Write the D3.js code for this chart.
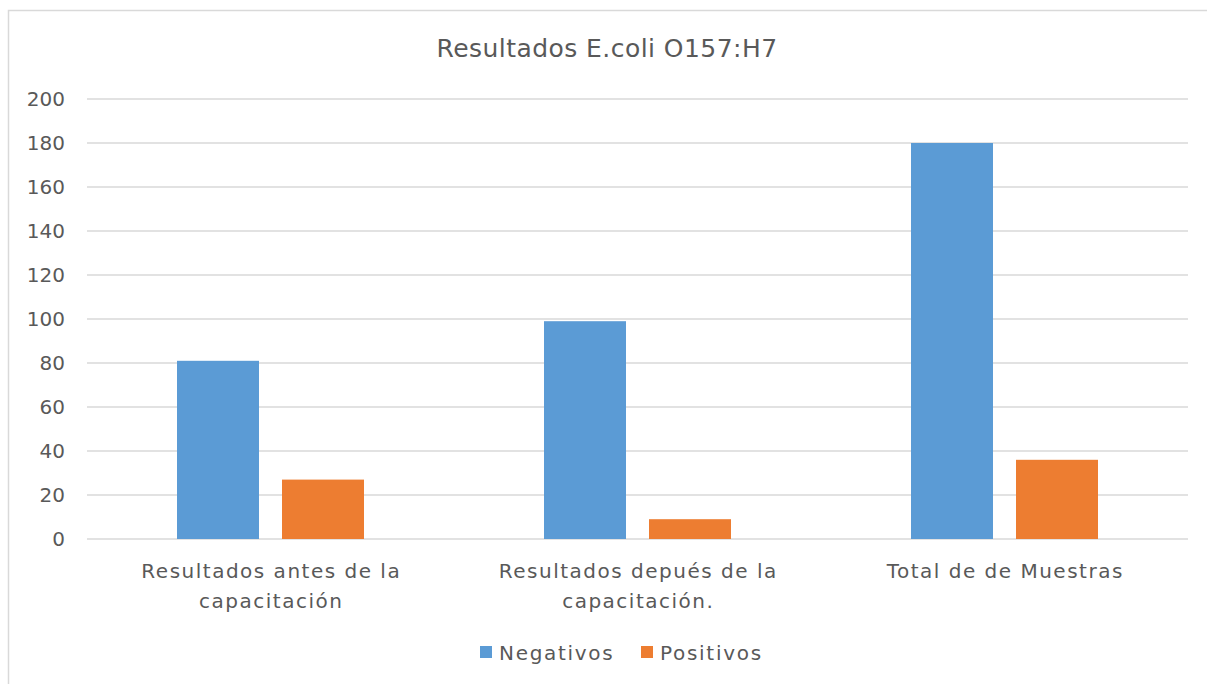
<!DOCTYPE html>
<html>
<head>
<meta charset="utf-8">
<script src="https://cdn.jsdelivr.net/npm/d3@7"></script>
<style>
  html, body { margin: 0; padding: 0; background: #fff; }
  svg { display: block; font-family: "DejaVu Sans", sans-serif; }
</style>
</head>
<body>
<svg id="chart" width="1207" height="684"></svg>
<script>
const categories = [
  ["Resultados antes de la", "capacitación"],
  ["Resultados depués de la", "capacitación."],
  ["Total de de Muestras"]
];
const seriesNames = ["Negativos", "Positivos"];
const negativos = [81, 99, 180];
const positivos = [27, 9, 36];
const yTicks = [0, 20, 40, 60, 80, 100, 120, 140, 160, 180, 200];
const colors = ["#5b9bd5", "#ed7d31"];

const svg = d3.select("#chart");
const W = 1207, H = 684;
const plot = { left: 87, right: 1188, top: 99, bottom: 539 };
const textColor = "#595959";

// chart frame
svg.append("path")
  .attr("d", `M8.5,${H} V10.5 H${W}`)
  .attr("fill", "none").attr("stroke", "#d9d9d9").attr("stroke-width", 1.5);

svg.append("text")
  .attr("x", 607).attr("y", 57)
  .attr("text-anchor", "middle")
  .attr("fill", textColor)
  .attr("font-size", 25)
  .attr("letter-spacing", 0.45)
  .text("Resultados E.coli O157:H7");

const y = d3.scaleLinear().domain([0, 200]).range([plot.bottom, plot.top]);
const x0 = d3.scaleBand().domain(d3.range(categories.length))
  .range([plot.left, plot.right]).paddingInner(0).paddingOuter(0);
const x1 = d3.scaleBand().domain(d3.range(seriesNames.length))
  .range([90, x0.bandwidth() - 90]).paddingInner(23 / 105).paddingOuter(0);

// gridlines
svg.append("g")
  .selectAll("line").data(yTicks).join("line")
  .attr("x1", plot.left).attr("x2", plot.right)
  .attr("y1", d => y(d)).attr("y2", d => y(d))
  .attr("stroke", "#d9d9d9").attr("stroke-width", 1.5);

// y axis labels
const yAxis = d3.axisLeft(y).tickValues(yTicks).tickSize(0).tickPadding(0);
const gy = svg.append("g").attr("transform", "translate(65,0)").call(yAxis);
gy.select(".domain").remove();
gy.selectAll("text")
  .attr("fill", textColor).attr("font-size", 20)
  .attr("font-family", "'DejaVu Sans', sans-serif");

// bars
const series = [negativos, positivos];
const groups = svg.append("g").selectAll("g").data(d3.range(categories.length)).join("g")
  .attr("transform", i => `translate(${x0(i)},0)`);
groups.selectAll("rect")
  .data(i => series.map((s, k) => ({ k, v: s[i] })))
  .join("rect")
  .attr("x", d => x1(d.k))
  .attr("width", x1.bandwidth())
  .attr("y", d => y(d.v))
  .attr("height", d => y(0) - y(d.v))
  .attr("fill", d => colors[d.k]);

// category labels
const cat = svg.append("g").selectAll("text").data(categories).join("text")
  .attr("text-anchor", "middle")
  .attr("fill", textColor)
  .attr("font-size", 20)
  .attr("letter-spacing", 1.5)
  .attr("transform", (d, i) => `translate(${x0(i) + x0.bandwidth() / 2 + 0.75},0)`);
cat.selectAll("tspan").data(d => d).join("tspan")
  .attr("x", 0)
  .attr("y", (d, j) => 578 + j * 30)
  .text(d => d);

// legend
const legendItems = [
  { name: seriesNames[0], color: colors[0], x: 480 },
  { name: seriesNames[1], color: colors[1], x: 641 }
];
const lg = svg.append("g").selectAll("g").data(legendItems).join("g")
  .attr("transform", d => `translate(${d.x},0)`);
lg.append("rect").attr("x", 0).attr("y", 646).attr("width", 12).attr("height", 12)
  .attr("fill", d => d.color);
lg.append("text").attr("x", 19).attr("y", 660)
  .attr("fill", textColor).attr("font-size", 20)
  .attr("letter-spacing", 1.7)
  .text(d => d.name);
</script>
</body>
</html>
